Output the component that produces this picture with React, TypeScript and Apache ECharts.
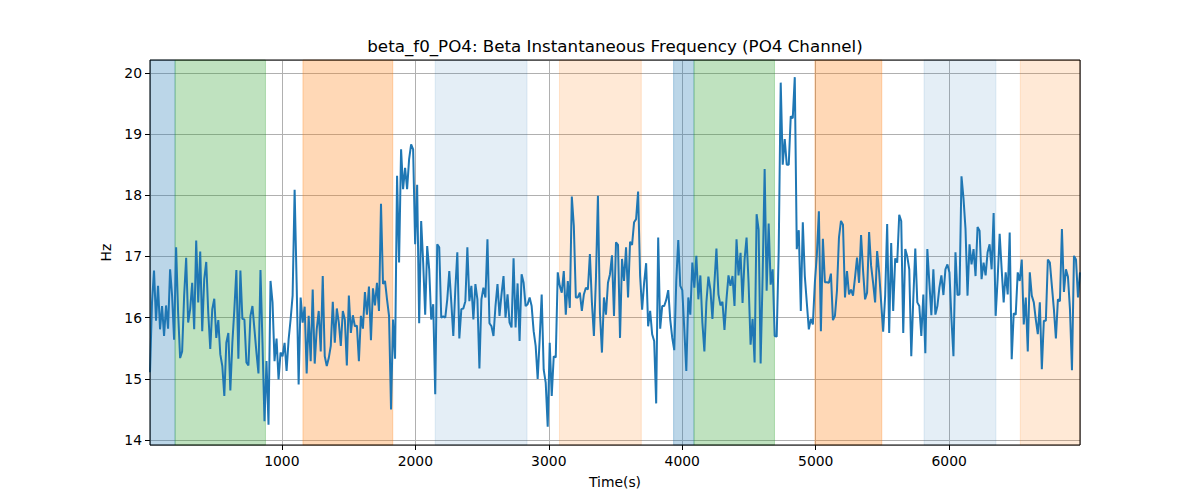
import { useEffect, useRef } from 'react';
import * as echarts from 'echarts';

// sampling grid of the recording (seconds)
const TIME_START = 12;
const TIME_STEP = 15.05;

// beta instantaneous frequency on PO4 (Hz)
const BETA_HZ = [
  15.11, 16.25, 16.77, 15.95, 16.52, 15.81, 16.19, 15.7, 16.2, 15.82,
  16.79, 16.36, 15.64, 17.15, 16.08, 15.34, 15.45, 16.36, 16.98, 15.92,
  16.14, 16.57, 15.81, 17.26, 16.25, 17.08, 15.78, 16.63, 16.91, 16.08,
  15.49, 16.14, 16.31, 15.67, 15.96, 15.4, 15.21, 14.72, 15.59, 15.75,
  14.81, 15.59, 16.14, 16.78, 15.33, 16.77, 15.98, 15.97, 15.27, 15.22,
  16.03, 16.19, 15.81, 15.43, 15.09, 16.78, 15.59, 14.31,
  15.29, 14.25, 16.6, 16.25, 15.29, 15.66, 14.99, 15.43, 15.37, 15.59,
  15.13, 15.64, 15.97, 16.36, 18.09, 16.57, 14.91, 16.33, 15.92, 16.18,
  15.09, 16.03, 15.29, 16.46, 15.25, 15.81, 16.11, 15.45, 16.68, 15.37,
  15.21, 15.34, 15.54, 16.26, 15.59, 16.15, 15.92, 15.54, 16.11, 15.97,
  15.22, 16.36, 15.75, 16.04, 15.86, 15.87, 15.29, 16.03, 15.82, 16.42,
  16.05, 16.51, 15.63, 16.48, 16.2, 16.57, 16.11, 17.86,
  16.55, 16.6, 16.3, 16.03, 14.5, 15.97, 15.33, 18.32, 16.9, 18.75,
  18.1, 18.45, 18.1, 18.59, 18.83, 18.75, 17.2, 18.17, 15.91, 17.58,
  16.9, 16.05, 17.17, 16.79, 15.97, 16.22, 14.75, 17.2, 17.15, 16.0,
  16.02, 16.0, 16.3, 16.76, 16.25, 15.7, 16.46, 17.07, 15.66, 16.14,
  16.15, 16.27, 17.15, 16.27, 16.52, 15.97, 16.55, 16.3, 15.17, 16.3,
  16.49, 16.33, 17.28, 15.91, 15.86, 15.7, 16.19, 16.55, 16.03,
  16.38, 16.68, 16.0, 16.38, 15.92, 15.84, 16.97, 15.84, 16.56, 15.62,
  16.71, 16.57, 16.19, 16.22, 16.33, 16.19, 15.78, 15.54, 15.0, 15.65,
  16.38, 15.15, 14.94, 14.22, 15.59, 14.72, 15.37, 15.35, 16.74, 16.52,
  16.41, 16.76, 16.05, 16.6, 16.16, 17.98, 17.5, 16.33, 16.33, 16.41,
  16.11, 16.38, 16.49, 16.46, 17.04, 16.25, 15.7, 16.63, 17.99, 16.08,
  15.43, 16.33, 16.05, 16.57, 16.71, 17.02, 16.03, 17.23,
  17.19, 15.67, 16.96, 16.6, 17.15, 16.33, 17.24, 17.19, 17.56, 17.61,
  18.06, 16.68, 16.13, 16.57, 16.89, 15.86, 16.11, 15.73, 15.62, 14.6,
  17.31, 15.82, 16.19, 16.19, 16.29, 16.45, 15.97, 15.67, 15.47, 16.6,
  17.27, 16.52, 16.45, 15.81, 15.13, 16.33, 16.05, 16.9, 16.49, 17.01,
  16.3, 16.69, 15.92, 15.45, 16.25, 16.67, 16.46, 15.98, 16.57, 17.13,
  16.38, 16.2, 16.26, 15.8, 16.3, 16.69, 16.52, 16.68, 16.19,
  17.28, 16.69, 17.06, 16.24, 16.95, 17.31, 16.57, 15.56, 15.98, 15.27,
  17.69, 17.44, 15.25, 16.68, 18.43, 16.44, 17.54, 16.54, 16.79, 15.7,
  15.69, 17.09, 19.84, 18.5, 18.92, 18.5, 18.5, 19.29, 19.26, 19.93,
  17.12, 17.43, 16.11, 17.56, 16.68, 16.24, 15.81, 15.98, 15.89, 16.57,
  17.03, 17.74, 15.78, 17.29, 16.58, 16.58, 16.57, 16.72, 15.96, 16.03,
  16.44, 17.31, 17.58, 17.52, 16.33, 16.76, 16.38, 16.46,
  16.36, 16.66, 16.98, 16.57, 17.35, 16.77, 16.3, 16.41, 17.4, 16.85,
  16.57, 16.25, 17.09, 16.74, 16.25, 15.77, 16.36, 17.53, 15.75, 17.22,
  16.11, 16.97, 16.9, 17.68, 17.58, 15.75, 17.12, 17.0, 16.79, 15.37,
  16.3, 17.13, 16.25, 16.19, 15.7, 16.38, 15.42, 17.12, 16.57, 16.04,
  16.79, 16.05, 16.19, 16.49, 16.69, 16.37, 16.79, 16.87, 16.74, 15.98,
  15.37, 17.07, 16.37, 16.38, 18.31, 17.95, 17.45, 16.36, 17.2,
  16.87, 17.12, 16.68, 17.48, 17.42, 16.63, 16.9, 16.69, 17.07, 17.2,
  16.79, 17.71, 16.03, 16.63, 17.37, 16.79, 16.25, 16.74, 16.38, 17.39,
  15.32, 16.07, 16.05, 16.74, 16.6, 16.95, 15.89, 16.33, 15.45, 16.74,
  16.36, 16.25, 15.97, 15.73, 16.25, 15.16, 15.95, 15.95, 16.95, 16.9,
  16.52, 16.14, 15.66, 16.3, 16.27, 17.45, 16.42, 16.79, 16.67, 16.14,
  15.14, 17.01, 16.95, 16.33, 16.74,
];

// shaded segments (seconds); null end = runs to the end of the record
const SEGMENT_STARTS = [12, 200, 1158, 2149, 3080, 3935, 4088, 4994, 5812, 6533];
const SEGMENT_ENDS = [200, 877, 1831, 2837, 3693, 4088, 4691, 5495, 6350, null];
const SEGMENT_KINDS = ['c0', 'c2', 'c1', 'c0light', 'c1light', 'c0', 'c2', 'c1', 'c0light', 'c1light'];

const KIND_COLORS: Record<string, string> = {
  c0: 'rgba(31,119,180,0.3)',
  c1: 'rgba(255,127,14,0.3)',
  c2: 'rgba(44,160,44,0.3)',
  c0light: 'rgba(31,119,180,0.12)',
  c1light: 'rgba(255,127,14,0.17)',
};

const FONT = 'DejaVu Sans';

export default function App() {
  const chartRef = useRef<HTMLDivElement>(null);

  useEffect(() => {
    if (!chartRef.current) return;
    const chart = echarts.init(chartRef.current, undefined, { renderer: 'svg' });

    const points = BETA_HZ.map((v, i) => [TIME_START + i * TIME_STEP, v]);
    const tEnd = points[points.length - 1][0];

    const areas = SEGMENT_STARTS.map((s, i) => {
      const color = KIND_COLORS[SEGMENT_KINDS[i]];
      return [
        { xAxis: s, itemStyle: { color, borderColor: color, borderWidth: 1 } },
        { xAxis: SEGMENT_ENDS[i] ?? tEnd },
      ];
    });

    chart.setOption({
      animation: false,
      backgroundColor: '#fff',
      grid: { left: 150, right: 120, top: 60, bottom: 55, containLabel: false },
      graphic: [
        {
          type: 'text',
          x: 615,
          y: 46,
          style: {
            text: 'beta_f0_PO4: Beta Instantaneous Frequency (PO4 Channel)',
            fontFamily: FONT,
            fontSize: 16.7,
            fill: '#000',
            textAlign: 'center',
            textVerticalAlign: 'middle',
          },
        },
        {
          type: 'rect',
          z: 100,
          silent: true,
          shape: { x: 150, y: 60, width: 930, height: 385 },
          style: { fill: 'none', stroke: '#000', lineWidth: 1 },
        },
      ],
      xAxis: {
        type: 'value',
        min: TIME_START,
        max: tEnd,
        minInterval: 1000,
        maxInterval: 1000,
        name: 'Time(s)',
        nameLocation: 'middle',
        nameGap: 30,
        nameTextStyle: { color: '#000', fontSize: 13.9, fontFamily: FONT },
        axisLine: { show: false },
        axisTick: { show: true, length: 5, lineStyle: { color: '#000' } },
        axisLabel: {
          color: '#000',
          fontSize: 13.9,
          fontFamily: FONT,
          margin: 9,
          showMinLabel: false,
          showMaxLabel: false,
          formatter: (v: number) => String(v),
        },
        splitLine: { show: true, lineStyle: { color: '#b0b0b0', width: 1 } },
      },
      yAxis: {
        type: 'value',
        min: 13.92,
        max: 20.21,
        minInterval: 1,
        maxInterval: 1,
        name: 'Hz',
        nameLocation: 'middle',
        nameGap: 33,
        nameTextStyle: { color: '#000', fontSize: 13.9, fontFamily: FONT },
        axisLine: { show: false },
        axisTick: { show: true, length: 5, lineStyle: { color: '#000' } },
        axisLabel: {
          color: '#000',
          fontSize: 13.9,
          fontFamily: FONT,
          margin: 8,
          showMinLabel: false,
          showMaxLabel: false,
        },
        splitLine: { show: true, lineStyle: { color: '#b0b0b0', width: 1 } },
      },
      series: [
        {
          type: 'line',
          data: points,
          showSymbol: false,
          lineStyle: { color: '#1f77b4', width: 2 },
          itemStyle: { color: '#1f77b4' },
          z: 3,
          markArea: { silent: true, data: areas },
        },
      ],
    });

    return () => {
      chart.dispose();
    };
  }, []);

  return (
    <div
      ref={chartRef}
      style={{ position: 'fixed', left: 0, top: 0, width: 1200, height: 500, background: '#fff' }}
    />
  );
}
